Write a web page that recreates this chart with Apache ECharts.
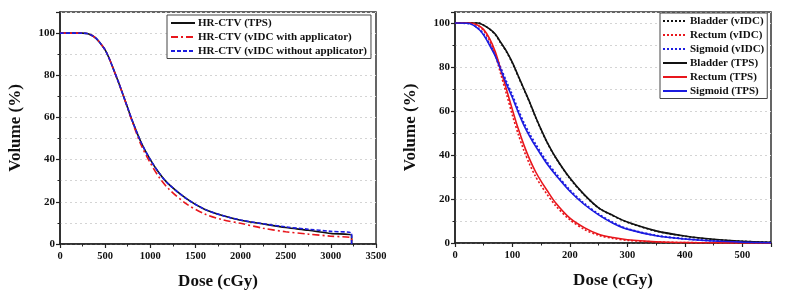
<!DOCTYPE html>
<html><head><meta charset="utf-8">
<script src="https://cdn.jsdelivr.net/npm/echarts@6/dist/echarts.min.js"></script>
<style>html,body{margin:0;padding:0;background:#fff}#c{width:785px;height:295px}</style>
</head><body><div id="c"></div>
<script>
// Left panel: HR-CTV DVH
const doseL = [0, 250, 300, 350, 400, 450, 500, 550, 600, 650, 700, 750, 800, 900, 1000, 1100, 1200, 1400, 1600, 1800, 2000, 2250, 2500, 2750, 3000, 3230, 3230];
const ctvTPS = [100, 100, 99.8, 99, 97.5, 95, 92, 87.5, 82, 76.5, 70.5, 64.5, 58.5, 48, 40, 33.5, 28.5, 21.5, 16.5, 13.5, 11.3, 9.5, 7.8, 6.5, 5, 4, 0];
const ctvWith = [100, 100, 99.8, 99, 97.5, 95, 92, 87.5, 82, 76.5, 70.5, 64.3, 58, 46.8, 38.5, 31.5, 26.3, 19, 14.3, 11.5, 9.8, 7.5, 5.8, 4.7, 3.7, 2.7, 0];
const ctvWithout = [100, 100, 99.8, 99, 97.5, 95, 92, 87.5, 82, 76.5, 70.5, 64.5, 58.5, 48, 40, 33.5, 28.5, 21.5, 16.5, 13.5, 11.4, 9.6, 8.1, 7, 6, 5, 0];
const namesL = ['HR-CTV (TPS)', 'HR-CTV (vIDC with applicator)', 'HR-CTV (vIDC without applicator)'];
const ticksL = { xmax: 3500, xstep: 500, ymax: 110, ystep: 20 };

// Right panel: OAR DVH
const doseR = [0, 25, 40, 50, 60, 70, 80, 90, 100, 110, 120, 130, 140, 150, 160, 175, 200, 225, 250, 275, 300, 350, 400, 450, 500, 550];
const bladderTPS = [100, 100, 100, 99, 97.3, 95, 91, 87, 82, 76, 70, 64, 57.5, 51.5, 46, 39, 29.5, 22, 16, 12.5, 9.5, 5.5, 3.2, 1.7, 0.8, 0.3];
const bladderV = [100, 100, 100, 99, 97.2, 94.8, 90.8, 86.7, 81.7, 75.7, 69.8, 63.8, 57.3, 51.3, 45.8, 38.8, 29.3, 21.8, 15.9, 12.4, 9.4, 5.4, 3.1, 1.6, 0.8, 0.3];
const rectumTPS = [100, 100, 99, 97, 93, 87, 78.5, 69.5, 60.5, 52, 44.5, 38, 32.5, 28, 24, 18.3, 11.3, 7, 4, 2.5, 1.5, 0.6, 0.2, 0.1, 0, 0];
const rectumV = [100, 100, 98.8, 96.5, 92, 85.5, 76.5, 67.3, 58, 49.5, 42, 35.7, 30.3, 26, 22.2, 17, 10.5, 6.2, 3.5, 2.1, 1.2, 0.5, 0.2, 0.1, 0, 0];
const sigmoidTPS = [100, 99.8, 97.5, 94.5, 90, 85, 78.5, 72, 66, 59.5, 53.5, 48.5, 44, 40, 36, 31, 23.5, 17.5, 12.8, 9, 6.3, 3.3, 1.8, 0.9, 0.4, 0.1];
const sigmoidV = [100, 99.8, 97.6, 94.8, 90.5, 85.6, 79.3, 73, 67, 60.5, 54.5, 49.5, 45, 40.8, 36.8, 31.7, 24, 17.9, 13.1, 9.3, 6.5, 3.4, 1.9, 1, 0.4, 0.1];
const namesR = ['Bladder (vIDC)', 'Rectum (vIDC)', 'Sigmoid (vIDC)', 'Bladder (TPS)', 'Rectum (TPS)', 'Sigmoid (TPS)'];
const ticksR = { xmax: 550, xstep: 100, ymax: 105, ystep: 20 };

const BLACK = '#111', RED = '#e8161c', BLUE = '#1c1ce0';
const FONT = '"Liberation Serif", "Times New Roman", serif';

function pairs(xs, ys) { return xs.map((x, i) => [x, ys[i]]); }

function xAxis(gi, t) {
  return {
    type: 'value', gridIndex: gi, min: 0, max: t.xmax, interval: t.xstep,
    name: 'Dose (cGy)', nameLocation: 'middle', nameGap: 29,
    nameTextStyle: { fontFamily: FONT, fontWeight: 'bold', fontSize: 17, color: '#111' },
    axisLine: { show: true, lineStyle: { color: '#222', width: 1.5 } },
    axisTick: { show: true, inside: false, length: 4, lineStyle: { color: '#222', width: 1.2 } },
    minorTick: { show: true, splitNumber: 2, length: 2.5, lineStyle: { color: '#222', width: 1 } },
    splitLine: { show: false },
    axisLabel: { fontFamily: FONT, fontWeight: 'bold', fontSize: 10.5, color: '#111', margin: 7,
      formatter: v => (v % t.xstep !== 0) ? '' : String(v) }
  };
}
function yAxis(gi, t) {
  return {
    type: 'value', gridIndex: gi, min: 0, max: t.ymax, interval: t.ystep,
    name: 'Volume (%)', nameLocation: 'middle', nameGap: 36, nameRotate: 90,
    nameTextStyle: { fontFamily: FONT, fontWeight: 'bold', fontSize: 17, color: '#111' },
    axisLine: { show: true, lineStyle: { color: '#222', width: 1.5 } },
    axisTick: { show: true, inside: false, length: 4, lineStyle: { color: '#222', width: 1.2 } },
    minorTick: { show: true, splitNumber: 2, length: 2.5, lineStyle: { color: '#222', width: 1 } },
    splitLine: { show: true, lineStyle: { color: '#d4d4d4', type: [2, 3], width: 1 } },
    minorSplitLine: { show: true, lineStyle: { color: '#d4d4d4', type: [2, 3], width: 1 } },
    axisLabel: { fontFamily: FONT, fontWeight: 'bold', fontSize: 11, color: '#111', margin: 5,
      formatter: v => v > 100 ? '' : String(v) }
  };
}
function line(name, gi, data, color, type, w) {
  return {
    name, type: 'line', xAxisIndex: gi, yAxisIndex: gi, data, smooth: 0.3,
    symbol: 'none', animation: false,
    lineStyle: { color, type, width: w || 1.6 }, itemStyle: { color }
  };
}

const legendText = { fontFamily: FONT, fontWeight: 'bold', fontSize: 11, color: '#111', padding: [0, 0, 0, -2] };
const chart = echarts.init(document.getElementById('c'), null, { renderer: 'canvas' });
chart.setOption({
  backgroundColor: '#fff',
  animation: false,
  grid: [
    { left: 60, top: 12, width: 316, height: 233, show: true, borderColor: '#333', borderWidth: 1.5, backgroundColor: 'transparent' },
    { left: 455, top: 12, width: 316, height: 231, show: true, borderColor: '#333', borderWidth: 1.5, backgroundColor: 'transparent' }
  ],
  xAxis: [xAxis(0, ticksL), xAxis(1, ticksR)],
  yAxis: [yAxis(0, ticksL), yAxis(1, ticksR)],
  legend: [
    { data: namesL, orient: 'vertical', left: 167, top: 15, padding: [2.5, 4, 2, 3], itemGap: 3,
      itemWidth: 24, itemHeight: 10, borderColor: '#444', borderWidth: 1, backgroundColor: '#fff',
      itemStyle: { opacity: 0 }, textStyle: legendText },
    { data: namesR, orient: 'vertical', left: 660, top: 13, padding: [2.5, 3, 2, 2], itemGap: 3,
      itemWidth: 24, itemHeight: 10, borderColor: '#444', borderWidth: 1, backgroundColor: '#fff',
      itemStyle: { opacity: 0 }, textStyle: legendText }
  ],
  series: [
    line(namesL[0], 0, pairs(doseL, ctvTPS), BLACK, 'solid'),
    line(namesL[1], 0, pairs(doseL, ctvWith), RED, [7, 3, 2, 3]),
    line(namesL[2], 0, pairs(doseL, ctvWithout), BLUE, [4, 2]),
    line(namesR[0], 1, pairs(doseR, bladderV), BLACK, [2, 2]),
    line(namesR[1], 1, pairs(doseR, rectumV), RED, [2, 2]),
    line(namesR[2], 1, pairs(doseR, sigmoidV), BLUE, [2, 2], 2),
    line(namesR[3], 1, pairs(doseR, bladderTPS), BLACK, 'solid'),
    line(namesR[4], 1, pairs(doseR, rectumTPS), RED, 'solid'),
    line(namesR[5], 1, pairs(doseR, sigmoidTPS), BLUE, 'solid')
  ]
});
</script></body></html>
